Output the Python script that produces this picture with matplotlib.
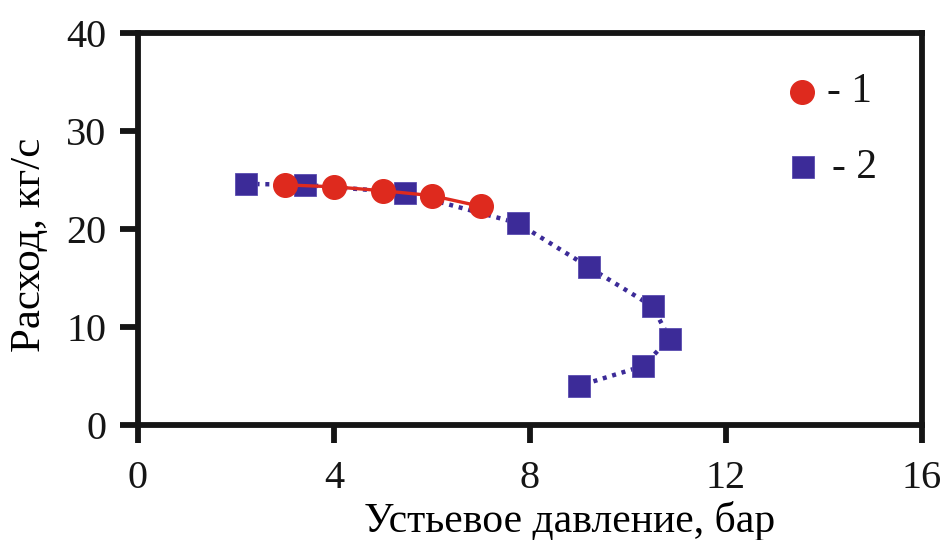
import matplotlib
matplotlib.use("Agg")
import matplotlib.pyplot as plt

# Series 1: wellhead pressure (bar) vs mass flow (kg/s)
p1 = [3.0, 4.0, 5.0, 6.0, 7.0]
q1 = [24.5, 24.3, 23.9, 23.4, 22.3]

# Series 2
p2 = [2.2, 3.4, 5.45, 7.75, 9.2, 10.5, 10.85, 10.3, 9.0]
q2 = [24.6, 24.5, 23.7, 20.6, 16.1, 12.1, 8.8, 6.0, 4.0]

xticks = [0, 4, 8, 12, 16]
yticks = [0, 10, 20, 30, 40]

red = "#DE2A1E"
blue = "#3C2B98"
ink = "#151515"

plt.rcParams["font.family"] = ["Liberation Serif", "DejaVu Serif"]

fig = plt.figure(figsize=(9.45, 5.4), dpi=100)
ax = fig.add_axes([0.146, 0.213, 0.8297, 0.726])

ax.plot(p2, q2, linestyle=(0, (0.9, 1.3)), color=blue, linewidth=3.2,
        marker="s", markersize=16.5, markerfacecolor=blue,
        markeredgecolor="#5a4cb0", markeredgewidth=0.6, zorder=2)
ax.plot(p1, q1, linestyle="-", color=red, linewidth=2.4,
        marker="o", markersize=17, markerfacecolor=red,
        markeredgecolor=red, zorder=3)

ax.set_xlim(0, 16)
ax.set_ylim(0, 40)
ax.set_xticks(xticks)
ax.set_yticks(yticks)
ax.tick_params(direction="out", length=13, width=4.2, labelsize=29,
               colors=ink, labelcolor=ink)
ax.tick_params(axis="x", pad=12)
ax.tick_params(axis="y", pad=10)
for s in ax.spines.values():
    s.set_linewidth(4.2)
    s.set_color(ink)

ax.set_xlabel("Устьевое давление, бар", fontsize=30)
ax.set_ylabel("Расход, кг/с", fontsize=31)
ax.xaxis.set_label_coords(0.55, -0.193)
ax.yaxis.set_label_coords(-0.113, 0.46)

# Legend drawn as markers with labels in axes coordinates
ax.plot([0.847], [0.849], transform=ax.transAxes, marker="o", markersize=17,
        color=red, linestyle="none", clip_on=False)
ax.text(0.879, 0.824, "- 1", transform=ax.transAxes, fontsize=30,
        va="baseline", ha="left", color=ink)
ax.plot([0.848], [0.658], transform=ax.transAxes, marker="s", markersize=16.5,
        color=blue, markeredgecolor="#5a4cb0", markeredgewidth=0.6,
        linestyle="none", clip_on=False)
ax.text(0.885, 0.630, "- 2", transform=ax.transAxes, fontsize=30,
        va="baseline", ha="left", color=ink)

fig.savefig("out.png", dpi=100)
